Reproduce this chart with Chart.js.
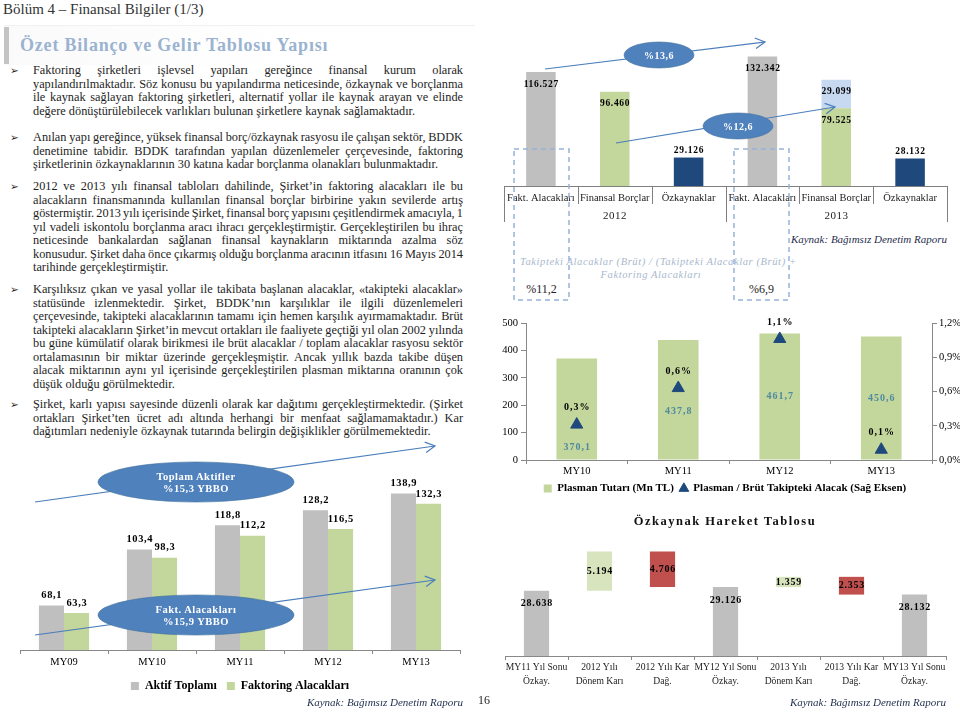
<!DOCTYPE html>
<html lang="tr">
<head>
<meta charset="utf-8">
<title>Özet Bilanço ve Gelir Tablosu Yapısı</title>
<script src="https://cdn.jsdelivr.net/npm/chart.js@4.4.1/dist/chart.umd.min.js"></script>
<style>
  html, body { margin: 0; padding: 0; background: #fff; }
  body { position: relative; width: 960px; height: 713px; overflow: hidden;
         font-family: "Liberation Serif", "Times New Roman", serif; color: #1e1e1e; }
  .abs { position: absolute; }
  canvas { position: absolute; }
  #header { left: 3px; top: 0; font-size: 15px; line-height: 18px; color: #333; white-space: nowrap; }
  #titlebox { left: 4px; top: 25px; width: 471px; height: 39px; border-top: 1px solid #f0f0f0;
              background: linear-gradient(to right, #fafafa, #fff 60%); }
  #titlebar { left: 4px; top: 27px; width: 5px; height: 37px; background: #c4c4c4; }
  #title { left: 20px; top: 34px; font-size: 18px; font-weight: bold; letter-spacing: 0.8px;
           color: #9ab3d0; line-height: 22px; white-space: nowrap; }
  .para { position: absolute; left: 33px; width: 430px; font-size: 12.3px; }
  .ln { height: 13.5px; line-height: 13.5px; white-space: nowrap; }
  .bul { position: absolute; left: 10px; font-family: "DejaVu Sans", sans-serif; font-size: 10.5px; line-height: 13.5px; }
  .src { font-style: italic; font-size: 11px; color: #1f2d4d; white-space: nowrap; }
  .lbl { white-space: nowrap; }
</style>
</head>
<body>

<div id="header" class="abs">Bölüm 4 – Finansal Bilgiler (1/3)</div>
<div id="titlebox" class="abs"></div>
<div id="titlebar" class="abs"></div>
<div id="title" class="abs">Özet Bilanço ve Gelir Tablosu Yapısı</div>

<div class="bul" style="top:64px">➢</div>
<div class="para" style="top:64px">
  <div class="ln">Faktoring şirketleri işlevsel yapıları gereğince finansal kurum olarak</div>
  <div class="ln">yapılandırılmaktadır. Söz konusu bu yapılandırma neticesinde, özkaynak ve borçlanma</div>
  <div class="ln">ile kaynak sağlayan faktoring şirketleri, alternatif yollar ile kaynak arayan ve elinde</div>
  <div class="ln last">değere dönüştürülebilecek varlıkları bulunan şirketlere kaynak sağlamaktadır.</div>
</div>

<div class="bul" style="top:131px">➢</div>
<div class="para" style="top:131px">
  <div class="ln">Anılan yapı gereğince, yüksek finansal borç/özkaynak rasyosu ile çalışan sektör, BDDK</div>
  <div class="ln">denetimine tabidir. BDDK tarafından yapılan düzenlemeler çerçevesinde, faktoring</div>
  <div class="ln last">şirketlerinin özkaynaklarının 30 katına kadar borçlanma olanakları bulunmaktadır.</div>
</div>

<div class="bul" style="top:180px">➢</div>
<div class="para" style="top:180px">
  <div class="ln">2012 ve 2013 yılı finansal tabloları dahilinde, Şirket’in faktoring alacakları ile bu</div>
  <div class="ln">alacakların finansmanında kullanılan finansal borçlar birbirine yakın sevilerde artış</div>
  <div class="ln">göstermiştir. 2013 yılı içerisinde Şirket, finansal borç yapısını çeşitlendirmek amacıyla, 1</div>
  <div class="ln">yıl vadeli iskontolu borçlanma aracı ihracı gerçekleştirmiştir. Gerçekleştirilen bu ihraç</div>
  <div class="ln">neticesinde bankalardan sağlanan finansal kaynakların miktarında azalma söz</div>
  <div class="ln">konusudur. Şirket daha önce çıkarmış olduğu borçlanma aracının itfasını 16 Mayıs 2014</div>
  <div class="ln last">tarihinde gerçekleştirmiştir.</div>
</div>

<div class="bul" style="top:283px">➢</div>
<div class="para" style="top:283px">
  <div class="ln">Karşılıksız çıkan ve yasal yollar ile takibata başlanan alacaklar, «takipteki alacaklar»</div>
  <div class="ln">statüsünde izlenmektedir. Şirket, BDDK’nın karşılıklar ile ilgili düzenlemeleri</div>
  <div class="ln">çerçevesinde, takipteki alacaklarının tamamı için hemen karşılık ayırmamaktadır. Brüt</div>
  <div class="ln">takipteki alacakların Şirket’in mevcut ortakları ile faaliyete geçtiği yıl olan 2002 yılında</div>
  <div class="ln">bu güne kümülatif olarak birikmesi ile brüt alacaklar / toplam alacaklar rasyosu sektör</div>
  <div class="ln">ortalamasının bir miktar üzerinde gerçekleşmiştir. Ancak yıllık bazda takibe düşen</div>
  <div class="ln">alacak miktarının aynı yıl içerisinde gerçekleştirilen plasman miktarına oranının çok</div>
  <div class="ln last">düşük olduğu görülmektedir.</div>
</div>

<div class="bul" style="top:398px">➢</div>
<div class="para" style="top:398px">
  <div class="ln">Şirket, karlı yapısı sayesinde düzenli olarak kar dağıtımı gerçekleştirmektedir. (Şirket</div>
  <div class="ln">ortakları Şirket’ten ücret adı altında herhangi bir menfaat sağlamamaktadır.) Kar</div>
  <div class="ln last">dağıtımları nedeniyle özkaynak tutarında belirgin değişiklikler görülmemektedir.</div>
</div>

<canvas id="chartA" width="480" height="247" style="left:0;top:455px"></canvas>
<canvas id="chartB" width="460" height="230" style="left:500px;top:0"></canvas>
<canvas id="chartC" width="470" height="194" style="left:490px;top:310px"></canvas>
<canvas id="chartD" width="470" height="213" style="left:490px;top:500px"></canvas>

<div class="abs src" style="right:497px;top:696px">Kaynak: Bağımsız Denetim Raporu</div>
<div class="abs" style="left:478px;top:693px;font-size:12px">16</div>
<div class="abs src" style="right:13px;top:233px">Kaynak: Bağımsız Denetim Raporu</div>
<div class="abs src" style="right:14px;top:696px">Kaynak: Bağımsız Denetim Raporu</div>

<div class="abs lbl" style="left:520px;top:256px;width:262px;text-align:center;font-style:italic;font-size:10.5px;line-height:12.5px;letter-spacing:0.6px;color:#a8b8cc">
  Takipteki Alacaklar (Brüt) / (Takipteki Alacaklar (Brüt) +<br>Faktoring Alacakları
</div>
<div class="abs lbl" style="left:514px;top:282px;width:55px;text-align:center;font-size:12px">%11,2</div>
<div class="abs lbl" style="left:734px;top:282px;width:55px;text-align:center;font-size:12px">%6,9</div>

<div class="abs lbl" style="left:600px;top:514px;width:250px;text-align:center;font-size:12.5px;font-weight:bold;letter-spacing:1.5px;color:#111">Özkaynak Hareket Tablosu</div>

<svg id="deko" class="abs" style="left:0;top:0;pointer-events:none" width="960" height="713"></svg>

<script>
/* ============================================================
   DATA
============================================================ */
const yillarA = ['MY09', 'MY10', 'MY11', 'MY12', 'MY13'];
const aktifToplami = [68.1, 103.4, 118.8, 128.2, 138.9];
const faktoringAlacaklari = [63.3, 98.3, 112.2, 116.5, 132.3];

const kalemlerB = ['Fakt. Alacakları', 'Finansal Borçlar', 'Özkaynaklar',
                   'Fakt. Alacakları', 'Finansal Borçlar', 'Özkaynaklar'];
const donemlerB = ['2012', '2013'];
const tutarlarB = [116527, 96460, 29126, 132342, 79525, 28132];
const ihracB = [null, null, null, null, 29099, null];

const yillarC = ['MY10', 'MY11', 'MY12', 'MY13'];
const plasmanTutari = [370.1, 437.8, 461.7, 450.6];
const plasmanOrani = [0.31, 0.63, 1.06, 0.09];

const kalemlerD = [['MY11 Yıl Sonu', 'Özkay.'], ['2012 Yılı', 'Dönem Karı'], ['2012 Yılı Kar', 'Dağ.'],
                   ['MY12 Yıl Sonu', 'Özkay.'], ['2013 Yılı', 'Dönem Karı'], ['2013 Yılı Kar', 'Dağ.'],
                   ['MY13 Yıl Sonu', 'Özkay.']];
const hareketD = [28638, 5194, -4706, 29126, 1359, -2353, 28132];
const tipD = ['toplam', 'artis', 'azalis', 'toplam', 'artis', 'azalis', 'toplam'];

/* ============================================================
   Helper
============================================================ */
const SERIF = '"Liberation Serif", "Times New Roman", serif';
const binlik = v => Math.round(Math.abs(v)).toString().replace(/\B(?=(\d{3})+(?!\d))/g, '.');
const ondalik = (v, d) => v.toFixed(d).replace('.', ',');

function yaz(ctx, text, x, y, font, color, spacing) {
    ctx.save();
    ctx.font = font;
    ctx.fillStyle = color;
    ctx.textAlign = 'center';
    ctx.textBaseline = 'middle';
    if ('letterSpacing' in ctx) ctx.letterSpacing = spacing + 'px';
    ctx.fillText(text, x + spacing / 2, y);
    ctx.restore();
}

Chart.defaults.font.family = SERIF;
Chart.defaults.color = '#000';
Chart.defaults.animation = false;
Chart.defaults.plugins.tooltip.enabled = false;

/* ============================================================
   1. JUSTIFY TEXT LINES
============================================================ */
document.querySelectorAll('.ln').forEach(el => {
    const text = el.textContent.trim();
    el.innerHTML = '<span>' + text + '</span>';
    if (el.classList.contains('last')) return;
    const w = el.firstChild.getBoundingClientRect().width;
    const spaces = (text.match(/ /g) || []).length;
    let ws = (430 - w) / spaces;
    if (ws < -1.2) {
        ws = -1.2;
        el.style.letterSpacing = ((430 - w - ws * spaces) / text.length) + 'px';
    }
    el.style.wordSpacing = ws + 'px';
});

/* ============================================================
   2. AKTIF TOPLAMI / FAKTORING ALACAKLARI
============================================================ */
const etiketA = {
    id: 'etiketA',
    afterDatasetsDraw(chart) {
        chart.data.datasets.forEach((ds, i) => {
            chart.getDatasetMeta(i).data.forEach((bar, j) => {
                yaz(chart.ctx, ondalik(ds.data[j], 1), bar.x, bar.y - 10, 'bold 10.5px ' + SERIF, '#000', 0.6);
            });
        });
    }
};

new Chart(document.getElementById('chartA'), {
    type: 'bar',
    data: {
        labels: yillarA,
        datasets: [
            { label: 'Aktif Toplamı', data: aktifToplami, backgroundColor: '#bfbfbf' },
            { label: 'Faktoring Alacakları', data: faktoringAlacaklari, backgroundColor: '#c3d69b' }
        ]
    },
    options: {
        responsive: false,
        layout: { padding: { left: 20, right: 20, top: 5, bottom: 0 } },
        datasets: { bar: { categoryPercentage: 0.57, barPercentage: 1 } },
        scales: {
            x: {
                grid: { drawOnChartArea: false, tickLength: 4, color: '#888' },
                border: { color: '#888' },
                ticks: { font: { family: SERIF, size: 10.5 }, padding: 2 },
                afterFit: s => { s.height = 20; }
            },
            y: { display: false, min: 40, max: 160 }
        },
        plugins: {
            legend: {
                position: 'bottom',
                labels: { boxWidth: 8, boxHeight: 8, padding: 10, font: { family: SERIF, size: 12, weight: 'bold' } }
            }
        }
    },
    plugins: [etiketA]
});

/* ============================================================
   3. 2012 / 2013 BILANCO KALEMLERI
============================================================ */
const tabloB = {
    id: 'tabloB',
    afterDraw(chart) {
        const x = chart.scales.x, ctx = chart.ctx;
        const n = chart.data.labels.length, w = (x.right - x.left) / n, grup = n / donemlerB.length;
        ctx.save();
        ctx.strokeStyle = '#7f7f7f';
        ctx.lineWidth = 1;
        for (let i = 0; i <= n; i++) {
            const bx = Math.round(x.left + i * w) + 0.5;
            ctx.beginPath();
            ctx.moveTo(bx, x.top);
            ctx.lineTo(bx, x.top + (i % grup === 0 ? 36 : 18));
            ctx.stroke();
        }
        ctx.restore();
        donemlerB.forEach((d, g) => {
            yaz(ctx, d, x.left + (g * grup + grup / 2) * w, x.top + 30, '11px ' + SERIF, '#222', 0.5);
        });
    },
    afterDatasetsDraw(chart) {
        chart.data.datasets.forEach((ds, i) => {
            chart.getDatasetMeta(i).data.forEach((bar, j) => {
                const v = ds.data[j];
                if (v == null) return;
                const h = bar.base - bar.y;
                const y = (h > 40 || i === 1) ? bar.y + 12 : bar.y - 7;
                yaz(chart.ctx, binlik(v), bar.x, y, 'bold 9.5px ' + SERIF, '#000', 0.7);
            });
        });
    }
};

new Chart(document.getElementById('chartB'), {
    type: 'bar',
    data: {
        labels: kalemlerB,
        datasets: [
            { data: tutarlarB, backgroundColor: ['#bfbfbf', '#c3d69b', '#1f497d', '#bfbfbf', '#c3d69b', '#1f497d'] },
            { data: ihracB, backgroundColor: '#c6d9f1' }
        ]
    },
    options: {
        responsive: false,
        layout: { padding: { left: 4, right: 13, top: 10, bottom: 0 } },
        datasets: { bar: { categoryPercentage: 1, barPercentage: 0.4 } },
        scales: {
            x: {
                stacked: true,
                grid: { display: false, drawTicks: false },
                border: { color: '#7f7f7f' },
                ticks: { font: { family: SERIF, size: 10.5 }, padding: 6, maxRotation: 0, autoSkip: false, color: '#222' },
                afterFit: s => { s.height = 44; }
            },
            y: { stacked: true, display: false, min: 0, max: 180000 }
        },
        plugins: { legend: { display: false } }
    },
    plugins: [tabloB]
});

/* ============================================================
   4. PLASMAN / TAKIPTEKI ALACAK
============================================================ */
const etiketC = {
    id: 'etiketC',
    afterDatasetsDraw(chart) {
        const bars = chart.getDatasetMeta(0).data, pts = chart.getDatasetMeta(1).data;
        bars.forEach((bar, j) => {
            let y = (bar.y + bar.base) / 2;
            if (Math.abs(y - pts[j].y) < 30) y = pts[j].y + 23;
            yaz(chart.ctx, ondalik(plasmanTutari[j], 1), bar.x, y, 'bold 10px ' + SERIF, '#4f8aa0', 1);
        });
        pts.forEach((p, j) => {
            yaz(chart.ctx, ondalik(plasmanOrani[j], 1) + '%', p.x, p.y - 17, 'bold 10px ' + SERIF, '#000', 1);
        });
    }
};

new Chart(document.getElementById('chartC'), {
    data: {
        labels: yillarC,
        datasets: [
            { type: 'bar', label: 'Plasman Tutarı (Mn TL)', data: plasmanTutari, backgroundColor: '#c3d69b',
              pointStyle: 'rect', order: 1, yAxisID: 'y' },
            { type: 'line', label: 'Plasman / Brüt Takipteki Alacak (Sağ Eksen)', data: plasmanOrani, showLine: false,
              pointStyle: 'triangle', pointRadius: 7, backgroundColor: '#1f497d', borderColor: '#1f497d',
              order: 0, yAxisID: 'y1' }
        ]
    },
    options: {
        responsive: false,
        layout: { padding: { left: 0, right: 0, top: 13, bottom: 0 } },
        datasets: { bar: { categoryPercentage: 1, barPercentage: 0.4 } },
        scales: {
            x: {
                grid: { drawOnChartArea: false, tickLength: 4, color: '#888' },
                border: { color: '#888' },
                ticks: { font: { family: SERIF, size: 10.5 }, padding: 1 },
                afterFit: s => { s.height = 17; }
            },
            y: {
                position: 'left', min: 0, max: 500,
                grid: { drawOnChartArea: false, tickLength: 5, color: '#888' },
                border: { color: '#888' },
                ticks: { stepSize: 100, font: { family: SERIF, size: 10.5 }, padding: 3 },
                afterFit: s => { s.width = 36; }
            },
            y1: {
                position: 'right', min: 0, max: 1.2,
                grid: { drawOnChartArea: false, tickLength: 5, color: '#888' },
                border: { color: '#888' },
                ticks: { stepSize: 0.3, font: { family: SERIF, size: 10.5 }, padding: 2, callback: v => ondalik(v, 1) + '%' },
                afterFit: s => { s.width = 28; }
            }
        },
        plugins: {
            legend: {
                position: 'bottom',
                labels: {
                    usePointStyle: true, boxWidth: 8, boxHeight: 8, padding: 6,
                    font: { family: SERIF, size: 11, weight: 'bold' },
                    sort: (a, b) => a.datasetIndex - b.datasetIndex
                }
            }
        }
    },
    plugins: [etiketC]
});

/* ============================================================
   5. OZKAYNAK HAREKET TABLOSU (WATERFALL)
============================================================ */
let bakiye = 0;
const barlarD = hareketD.map((v, i) => {
    if (tipD[i] === 'toplam') { bakiye = v; return [0, v]; }
    const bas = bakiye;
    bakiye += v;
    return [bas, bakiye];
});
const renkD = { toplam: '#bfbfbf', artis: '#d7e4bd', azalis: '#c0504d' };

const etiketD = {
    id: 'etiketD',
    afterDatasetsDraw(chart) {
        chart.getDatasetMeta(0).data.forEach((bar, j) => {
            const y = tipD[j] === 'toplam' ? bar.y + 13 : (bar.y + bar.base) / 2;
            yaz(chart.ctx, binlik(hareketD[j]), bar.x, y, 'bold 10px ' + SERIF, '#000', 0.8);
        });
    }
};

new Chart(document.getElementById('chartD'), {
    type: 'bar',
    data: {
        labels: kalemlerD,
        datasets: [{ data: barlarD, backgroundColor: tipD.map(t => renkD[t]) }]
    },
    options: {
        responsive: false,
        layout: { padding: { left: 15, right: 14, top: 5, bottom: 23 } },
        datasets: { bar: { categoryPercentage: 1, barPercentage: 0.4 } },
        scales: {
            x: {
                grid: { drawOnChartArea: false, tickLength: 4, color: '#888' },
                border: { color: '#888' },
                ticks: { font: { family: SERIF, size: 9.6, lineHeight: 1.45 }, padding: 1, maxRotation: 0, autoSkip: false, color: '#222' },
                afterFit: s => { s.height = 34; }
            },
            y: { display: false, min: 20000, max: 40000 }
        },
        plugins: { legend: { display: false } }
    },
    plugins: [etiketD]
});

/* ============================================================
   6. OKLAR, ELIPSLER, KESIKLI KUTULAR
============================================================ */
const svg = document.getElementById('deko');
const NS = 'http://www.w3.org/2000/svg';
function el(tag, attrs, text) {
    const e = document.createElementNS(NS, tag);
    Object.entries(attrs).forEach(([k, v]) => e.setAttribute(k, v));
    if (text) e.textContent = text;
    svg.appendChild(e);
    return e;
}
function ok(x1, y1, x2, y2) {
    el('line', { x1, y1, x2, y2, stroke: '#4a7ebb', 'stroke-width': 1.2 });
    const a = Math.atan2(y2 - y1, x2 - x1), L = 11;
    const p1 = [x2 - L * Math.cos(a - 0.5), y2 - L * Math.sin(a - 0.5)];
    const p2 = [x2 - L * Math.cos(a + 0.5), y2 - L * Math.sin(a + 0.5)];
    el('polyline', { points: `${p1} ${x2},${y2} ${p2}`, fill: 'none', stroke: '#4a7ebb', 'stroke-width': 1.2 });
}
function elips(cx, cy, rx, ry, lines, size) {
    el('ellipse', { cx, cy, rx, ry, fill: '#4f81bd', stroke: '#41719c', 'stroke-width': 0.6 });
    lines.forEach((t, i) => {
        el('text', { x: cx, y: cy + (i - (lines.length - 1) / 2) * 12 + 4, 'text-anchor': 'middle', fill: '#fff',
                     'font-family': 'Liberation Serif', 'font-weight': 'bold', 'font-size': size,
                     'letter-spacing': '0.5' }, t);
    });
}
function kutu(x, y, w, h) {
    el('rect', { x, y, width: w, height: h, fill: 'none', stroke: '#95b3d7', 'stroke-width': 1.5, 'stroke-dasharray': '5 4' });
}

ok(35, 502, 435, 446);
elips(196, 482, 98, 20, ['Toplam Aktifler', '%15,3 YBBO'], 10.5);
ok(35, 635, 435, 580);
elips(196, 615, 98, 20, ['Fakt. Alacakları', '%15,9 YBBO'], 10.5);

ok(545, 69, 765, 42);
elips(659, 55, 35, 13, ['%13,6'], 10);
ok(616, 143, 835, 107);
elips(738, 126, 35, 13, ['%12,6'], 10);

kutu(514, 149, 55, 151);
kutu(734, 149, 55, 151);
</script>
</body>
</html>
